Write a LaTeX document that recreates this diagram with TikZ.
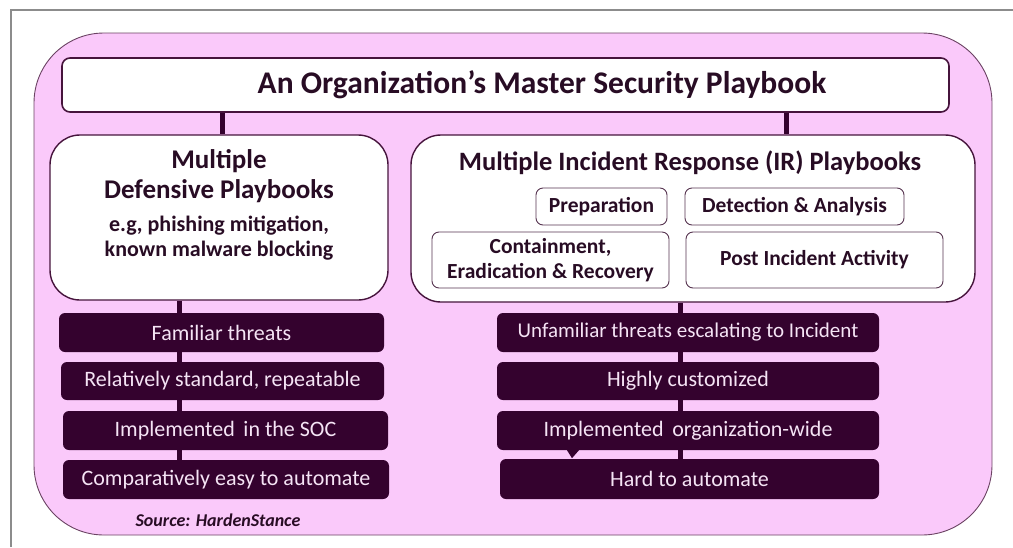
\documentclass[tikz,border=0pt]{standalone}
\usepackage{fontspec}
\setmainfont{Carlito}
\usetikzlibrary{positioning,backgrounds}

\definecolor{pinkbg}{RGB}{250,201,250}
\definecolor{plum}{RGB}{52,2,46}
\definecolor{plumline}{RGB}{70,20,60}
\definecolor{inkdark}{RGB}{40,12,36}
\definecolor{barink}{RGB}{245,228,245}
\definecolor{framegray}{RGB}{140,140,140}

\tikzset{
  whitebox/.style={draw=plumline, fill=white, line width=1.4pt, rounded corners=30pt},
  phasebox/.style={draw=plumline!70!gray, fill=white, line width=0.9pt, rounded corners=7pt,
    align=center, text=inkdark, font=\bfseries\fontsize{21.5}{25}\selectfont},
  darkbar/.style={fill=plum, rounded corners=6pt, text=barink,
    font=\fontsize{22}{25}\selectfont},
  link/.style={draw=plum, line width=5pt}
}

\begin{document}
\begin{tikzpicture}[x=1pt,y=-1pt]
        \useasboundingbox (0,0) rectangle (1013,547);

        \begin{scope}[on background layer]
        % Frame
        \draw[framegray, line width=1.2pt] (11,547) -- (11,10) -- (1013,10);
        % Background
        \draw[fill=pinkbg, draw=plumline!80, line width=0.9pt, rounded corners=70pt] (34,33) rectangle (992,535);
        \end{scope}

        % Master playbook
        \node[draw=plumline, fill=white, line width=1.6pt, rounded corners=8pt,
              minimum width=887pt, minimum height=54pt] (master) at (505.5,85) {};
        \node[text=inkdark, font=\bfseries\fontsize{31.5}{36}\selectfont] (mastertxt) at (542,85) {An Organization’s Master Security Playbook};

        % Defensive playbooks
        \node[whitebox, minimum width=338pt, minimum height=165pt] (defl) at (219,217.5) {};
        \node[align=center, text=inkdark, font=\bfseries\fontsize{27}{30}\selectfont] (defttl) at (219,176.5) {Multiple\\Defensive Playbooks};
        \node[align=center, text=inkdark, font=\bfseries\fontsize{22}{25}\selectfont] (defeg) at (219,238.5) {e.g, phishing mitigation,\\known malware blocking};

        % IR playbooks
        \node[whitebox, minimum width=564pt, minimum height=167pt] (irb) at (693,218.5) {};
        \node[text=inkdark, font=\bfseries\fontsize{26.5}{30}\selectfont] (irttl) at (690,163) {Multiple Incident Response (IR) Playbooks};
        \node[phasebox, minimum width=131pt, minimum height=37pt] (prep) at (601.5,206.5) {Preparation};
        \node[phasebox, minimum width=219pt, minimum height=37pt] (det) at (794.5,206.5) {Detection \& Analysis};
        \node[phasebox, minimum width=237pt, minimum height=56pt] (cont) at (550.5,260) {Containment,\\Eradication \& Recovery};
        \node[phasebox, minimum width=257pt, minimum height=56pt] (post) at (814.5,260) {Post Incident Activity};

        % Links from master
        \draw[link] ([xshift=3pt]master.south -| defl.north) -- ([xshift=3pt]defl.north);
        \draw[link] ([xshift=93pt]master.south -| irb.north) -- ([xshift=93pt]irb.north);

        % Defensive traits
        \node[darkbar, minimum width=325pt, minimum height=39pt] (fam) at (221.5,332.5) {Familiar threats};
        \node[darkbar, minimum width=323pt, minimum height=38pt] (rel) at (222.5,381) {Relatively standard, repeatable};
        \node[darkbar, minimum width=325pt, minimum height=39pt] (soc) at (225.5,430.5) {Implemented\, in the SOC};
        \node[darkbar, minimum width=326pt, minimum height=39pt] (easy) at (226,479.5) {Comparatively easy to automate};

        % IR traits
        \node[darkbar, minimum width=382pt, minimum height=39pt, font=\fontsize{21}{25}\selectfont] (unf) at (688,332.5) {Unfamiliar threats escalating to Incident};
        \node[darkbar, minimum width=382pt, minimum height=38pt] (cust) at (688,381) {Highly customized};
        \node[darkbar, minimum width=382pt, minimum height=39pt] (wide) at (688,430.5) {Implemented\, organization-wide};
        \node[darkbar, minimum width=379pt, minimum height=40pt] (hard) at (689.5,479) {Hard to automate};
        \fill[plum] ([xshift=-121pt]wide.south) -- ([xshift=-109pt]wide.south) -- ([xshift=-116pt,yshift=-8pt]wide.south) -- cycle;

        % Links behind the bars
        \begin{scope}[on background layer]
        \draw[link] ([xshift=-40pt]defl.south) -- ([xshift=-40pt]defl.south |- easy.north);
        \draw[link] ([xshift=-13pt]irb.south) -- ([xshift=-13pt]irb.south |- hard.north);
        \end{scope}

        % Source
        \node[text=inkdark, font=\bfseries\itshape\fontsize{18}{21}\selectfont] (src) at (218,520) {Source: HardenStance};
    \end{tikzpicture}
\end{document}
